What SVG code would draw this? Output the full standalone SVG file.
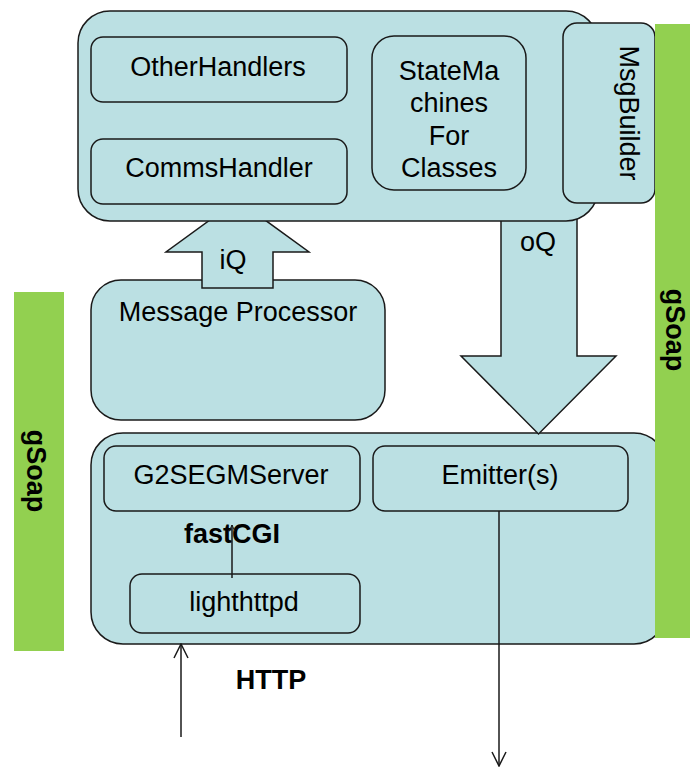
<svg xmlns="http://www.w3.org/2000/svg" width="690" height="767" viewBox="0 0 690 767">
  <defs>
    <style>
      .box { fill: #bbe0e3; stroke: #1a1a1a; stroke-width: 1.5; }
      .bar { fill: #92d050; stroke: none; }
      .lbl { font-family: "Liberation Sans", Arial, sans-serif; font-size: 27px; fill: #000; text-anchor: middle; }
      .bold { font-weight: bold; }
      .wire { fill: none; stroke: #1a1a1a; stroke-width: 1.5; }
    </style>
    <marker id="open-arrow" viewBox="0 0 16 16" refX="15" refY="8" markerWidth="16" markerHeight="16" markerUnits="userSpaceOnUse" orient="auto">
      <path d="M1,1 L15,8 L1,15" fill="none" stroke="#1a1a1a" stroke-width="1.5"/>
    </marker>
    <marker id="small-arrow" viewBox="0 0 8 8" refX="7.5" refY="4" markerWidth="8" markerHeight="8" markerUnits="userSpaceOnUse" orient="auto">
      <path d="M1,1 L7.5,4 L1,7" fill="none" stroke="#1a1a1a" stroke-width="1"/>
    </marker>
  </defs>

  <rect width="690" height="767" fill="#ffffff"/>

  <!-- left gSoap layer -->
  <g id="gsoap-left">
    <rect class="bar" x="14" y="292" width="50" height="359"/>
    <text class="lbl bold" transform="translate(26.5,471) rotate(90)">gSoap</text>
  </g>

  <!-- message processor -->
  <g id="message-processor">
    <rect class="box" x="91" y="280" width="294" height="140" rx="30"/>
    <text class="lbl" x="238" y="321">Message Processor</text>
  </g>

  <!-- input queue block arrow -->
  <g id="iq">
    <polygon class="box" points="202,288 202,252 166,252 237.5,200 309,252 273,252 273,288"/>
    <text class="lbl" x="233" y="269">iQ</text>
  </g>

  <!-- server layer -->
  <g id="server-layer">
    <rect class="box" x="91" y="433" width="575" height="211" rx="32"/>
  </g>
  <g id="g2segm-server">
    <rect class="box" x="104" y="446" width="256" height="65" rx="12"/>
    <text class="lbl" x="231" y="484">G2SEGMServer</text>
  </g>
  <g id="emitters">
    <rect class="box" x="373" y="446" width="255" height="65" rx="12"/>
    <text class="lbl" x="500" y="484">Emitter(s)</text>
  </g>
  <g id="lighthttpd">
    <rect class="box" x="130" y="574" width="230" height="59" rx="12"/>
    <text class="lbl" x="244" y="611">lighthttpd</text>
  </g>
  <text class="lbl bold" x="232" y="543">fastCGI</text>

  <!-- output queue block arrow -->
  <g id="oq">
    <polygon class="box" points="501,200 577,200 577,356 616,356 538.5,434 461,356 501,356"/>
    <text class="lbl" x="538" y="251">oQ</text>
  </g>

  <!-- handler layer -->
  <g id="handler-layer">
    <rect class="box" x="78" y="11" width="520" height="210" rx="32"/>
  </g>
  <g id="other-handlers">
    <rect class="box" x="91" y="37" width="256" height="65" rx="12"/>
    <text class="lbl" x="218" y="76">OtherHandlers</text>
  </g>
  <g id="comms-handler">
    <rect class="box" x="91" y="139" width="256" height="65" rx="12"/>
    <text class="lbl" x="219" y="177">CommsHandler</text>
  </g>
  <g id="state-machines">
    <rect class="box" x="372" y="36" width="154" height="154" rx="22"/>
    <text class="lbl" x="449" y="80">StateMa</text>
    <text class="lbl" x="449" y="112">chines</text>
    <text class="lbl" x="449" y="145">For</text>
    <text class="lbl" x="449" y="177">Classes</text>
  </g>
  <g id="msg-builder">
    <rect class="box" x="563" y="23" width="92" height="180" rx="14"/>
    <text class="lbl" transform="translate(620,113) rotate(90)">MsgBuilder</text>
  </g>

  <!-- right gSoap layer -->
  <g id="gsoap-right">
    <rect class="bar" x="655" y="24" width="35" height="614"/>
    <text class="lbl bold" transform="translate(666,330) rotate(90)">gSoap</text>
  </g>

  <!-- connectors -->
  <g id="connectors">
    <line class="wire" x1="181" y1="737" x2="181" y2="644" marker-end="url(#open-arrow)"/>
    <line class="wire" x1="499" y1="511" x2="499" y2="766" marker-end="url(#open-arrow)"/>
    <line class="wire" x1="232" y1="578" x2="232" y2="525" stroke-width="1.2" marker-end="url(#small-arrow)"/>
  </g>

  <text class="lbl bold" x="271" y="689">HTTP</text>
</svg>
